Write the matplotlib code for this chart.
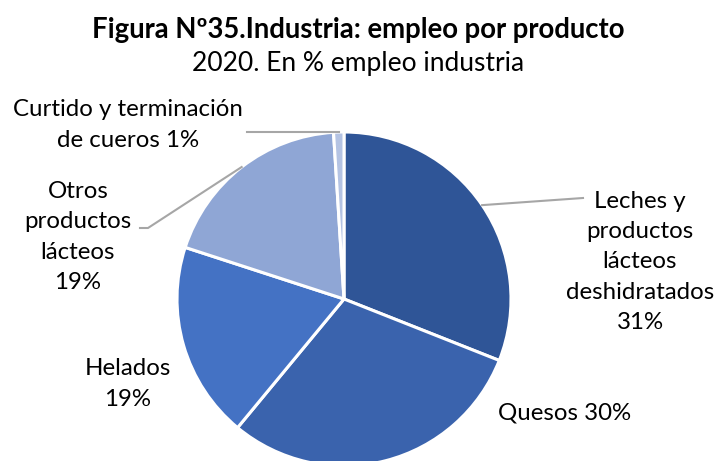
import numpy as np
import matplotlib
matplotlib.use("Agg")
import matplotlib.pyplot as plt

plt.rcParams['font.family'] = ['Lato', 'DejaVu Sans']

categories = ["Leches y\nproductos\nlácteos\ndeshidratados\n31%",
              "Quesos 30%",
              "Helados\n19%",
              "Otros\nproductos\nlácteos\n19%",
              "Curtido y terminación\nde cueros 1%"]
values = [31, 30, 19, 19, 1]
colors = ["#2F5597", "#3A63AD", "#4472C4", "#8FA6D5", "#B4C3E3"]

W, H = 716, 461
fig = plt.figure(figsize=(W / 100, H / 100), dpi=100)
ax = fig.add_axes([0, 0, 1, 1])
ax.set_xlim(0, W)
ax.set_ylim(0, H)
ax.set_aspect('equal')
ax.axis('off')

cx, cy, r = 344, H - 299, 167
wedges, _ = ax.pie(values, colors=colors, startangle=90, counterclock=False,
                   center=(cx, cy), radius=r, frame=True,
                   wedgeprops=dict(edgecolor='white', linewidth=2.2))
ax.set_xlim(0, W)
ax.set_ylim(0, H)
ax.axis('off')

def edge_pt(w):
    a = np.deg2rad((w.theta1 + w.theta2) / 2)
    return cx + r * np.cos(a), cy + r * np.sin(a)

lc = "#A6A6A6"
fs = 17.3
ls = 1.55
# Leches
x0, y0 = edge_pt(wedges[0])
ax.plot([x0, 583], [y0, H - 198], color=lc, lw=1.5)
ax.text(640, H - 262, categories[0], ha='center', va='center', fontsize=fs, linespacing=ls)
# Quesos
ax.text(565, H - 413, categories[1], ha='center', va='center', fontsize=fs)
# Helados
ax.text(128, H - 384, categories[2], ha='center', va='center', fontsize=fs, linespacing=ls)
# Otros
x0, y0 = edge_pt(wedges[3])
ax.plot([x0, 148, 140], [y0, H - 228, H - 228], color=lc, lw=1.5)
ax.text(78, H - 237, categories[3], ha='center', va='center', fontsize=fs, linespacing=ls)
# Curtido
x0, y0 = edge_pt(wedges[4])
ax.plot([x0, 247], [y0, y0], color=lc, lw=1.5)
ax.text(128, H - 125, categories[4], ha='center', va='center', fontsize=fs, linespacing=ls)

fig.text(0.5, 1 - 30 / H, "Figura Nº35.Industria: empleo por producto", ha='center', va='center',
         fontsize=19.8, fontweight='bold')
fig.text(0.5, 1 - 63 / H, "2020. En % empleo industria", ha='center', va='center', fontsize=19)

fig.savefig("out.png", dpi=100)
